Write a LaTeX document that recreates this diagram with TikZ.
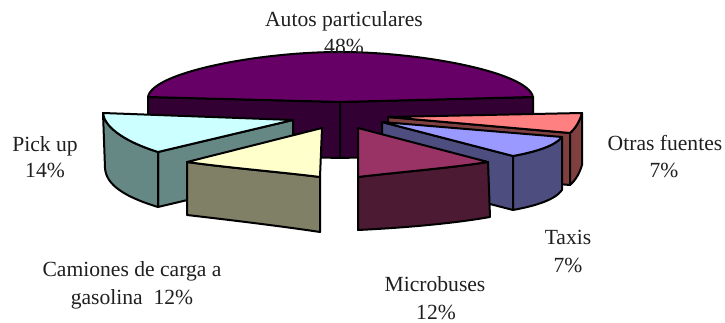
\documentclass[tikz,border=0pt]{standalone}
\usepackage{fontspec}
\setmainfont{Liberation Serif}
\begin{document}
\begin{tikzpicture}[x=0.75pt,y=-0.75pt,
  edge/.style={draw=black,line width=1.5pt,line join=round},
  lbl/.style={font=\fontsize{16.2}{20}\selectfont,text=black!88,anchor=base,inner sep=0pt}]
\useasboundingbox (0,0) rectangle (725,323);
% slice colours (top face / side face)
\definecolor{autotop}{HTML}{660066}\definecolor{autoside}{HTML}{330033}
\definecolor{otrtop}{HTML}{FF8080}\definecolor{otrside}{HTML}{804040}
\definecolor{taxtop}{HTML}{9999FF}\definecolor{taxside}{HTML}{4D4D80}
\definecolor{mictop}{HTML}{993366}\definecolor{micside}{HTML}{4D1A33}
\definecolor{pictop}{HTML}{CCFFFF}\definecolor{picside}{HTML}{668884}
\definecolor{camtop}{HTML}{FFFFCC}\definecolor{camside}{HTML}{808066}

% Autos particulares (back slab)
\path[edge,fill=autoside] (148,97) -- (340,102) -- (340,158) -- (148,153) -- cycle;
\path[edge,fill=autoside] (340,102) -- (533,97) -- (533,153) -- (340,158) -- cycle;
\path[edge,fill=autotop] (148,97) .. controls (152,72) and (260,52) .. (340,52)
   .. controls (420,52) and (528,72) .. (533,97) -- (340,102) -- cycle;

% Otras fuentes
\path[edge,fill=otrside] (388,117) -- (570,133) -- (570,185) -- (388,170) -- cycle;
\path[edge,fill=otrside] (570,133) .. controls (576,128) and (580,120) .. (582,113)
   -- (582,165) .. controls (580,172) and (576,180) .. (570,185) -- cycle;
\path[edge,fill=otrtop] (388,117) -- (582,113) .. controls (580,120) and (576,128) .. (570,133) -- cycle;

% Taxis
\path[edge,fill=taxside] (382,122) -- (513,156) -- (513,210) -- (382,176) -- cycle;
\path[edge,fill=taxside] (513,156) .. controls (535,152) and (555,146) .. (562,137)
   -- (562,190) .. controls (555,200) and (535,206) .. (513,210) -- cycle;
\path[edge,fill=taxtop] (382,122) -- (562,137) .. controls (555,146) and (535,152) .. (513,156) -- cycle;

% Microbuses
\path[edge,fill=micside] (358,177) .. controls (400,172) and (450,168) .. (488,162)
   -- (490,217) .. controls (450,224) and (400,228) .. (358,230) -- cycle;
\path[edge,fill=mictop] (358,128) -- (488,162) .. controls (450,168) and (400,172) .. (358,177) -- cycle;

% Pick up
\path[edge,fill=picside] (158,152) -- (293,120) -- (293,175) -- (158,207) -- cycle;
\path[edge,fill=picside] (103,113) .. controls (104,125) and (120,140) .. (158,152)
   -- (158,207) .. controls (125,197) and (106,185) .. (105,168) -- cycle;
\path[edge,fill=pictop] (103,113) -- (293,120) -- (158,152)
   .. controls (120,140) and (104,125) .. (103,113) -- cycle;

% Camiones de carga a gasolina
\path[edge,fill=camside] (187,162) .. controls (230,168) and (280,172) .. (320,177)
   -- (320,232) .. controls (280,226) and (230,220) .. (187,215) -- cycle;
\path[edge,fill=camtop] (322,128) -- (187,162) .. controls (230,168) and (280,172) .. (320,177) -- cycle;

% labels
\node[lbl] (autos) at (344,27) {Autos particulares};
\node[lbl] (autosp) at (344,54) {48\%};
\node[lbl] (pick) at (45,152) {Pick up};
\node[lbl] (pickp) at (45,178) {14\%};
\node[lbl] (otras) at (665,151) {Otras fuentes};
\node[lbl] (otrasp) at (664,178) {7\%};
\node[lbl] (taxis) at (568,245) {Taxis};
\node[lbl] (taxisp) at (568,273) {7\%};
\node[lbl] (micro) at (435,292) {Microbuses};
\node[lbl] (microp) at (436,320) {12\%};
\node[lbl] (cam1) at (132,277) {Camiones de carga a};
\node[lbl] (cam2) at (132,305) {gasolina\ \ 12\%};
\end{tikzpicture}
\end{document}
